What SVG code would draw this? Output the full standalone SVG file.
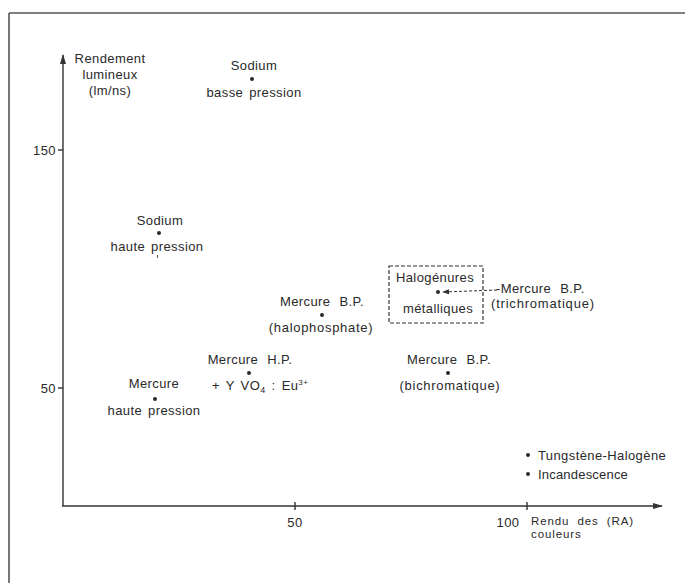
<svg xmlns="http://www.w3.org/2000/svg" width="685" height="583" viewBox="0 0 685 583">
<style>
text{font-family:"Liberation Sans",Arial,sans-serif;font-size:13px;fill:#2a2a2a;letter-spacing:0.4px;word-spacing:2px}
.c{text-anchor:middle}
.e{text-anchor:end}
.w{word-spacing:5px}
.s{font-size:11.5px;letter-spacing:0.9px}
.ax{stroke:#333;stroke-width:1.4;fill:none}
.dot{fill:#2a2a2a}
</style>
<defs>
<marker id="ah" markerWidth="10" markerHeight="8" refX="9" refY="4" orient="auto" markerUnits="userSpaceOnUse">
<path d="M0,1 L10,4 L0,7 Z" fill="#333"/>
</marker>
<marker id="ahs" markerWidth="7" markerHeight="6" refX="6" refY="3" orient="auto" markerUnits="userSpaceOnUse">
<path d="M0,0.5 L7,3 L0,5.5 Z" fill="#333"/>
</marker>
</defs>
<g id="frame">
<line x1="9" y1="13" x2="685" y2="13" stroke="#555" stroke-width="1.6"/>
<line x1="9" y1="13" x2="9" y2="583" stroke="#555" stroke-width="1.6"/>
</g>
<g id="connectors">
<line class="ax" x1="63" y1="506" x2="63" y2="55" marker-end="url(#ah)"/>
<line class="ax" x1="62" y1="506" x2="662" y2="506" marker-end="url(#ah)"/>
<line class="ax" x1="58" y1="150" x2="63" y2="150"/>
<line class="ax" x1="58" y1="388" x2="63" y2="388"/>
<line class="ax" x1="295" y1="502" x2="295" y2="510"/>
<line class="ax" x1="527" y1="502" x2="527" y2="510"/>
<line x1="497" y1="290" x2="443" y2="292" stroke="#333" stroke-width="1" stroke-dasharray="3,2" marker-end="url(#ahs)"/>
</g>
<g id="axis-y-label">
<text class="c" x="110" y="63">Rendement</text>
<text class="c" x="110" y="79">lumineux</text>
<text class="c" x="110" y="95">(lm/ns)</text>
<text class="e" x="56" y="155">150</text>
<text class="e" x="56" y="393">50</text>
</g>
<g id="axis-x-label">
<text class="c" x="295" y="527">50</text>
<text class="c" x="508" y="527">100</text>
<text class="s" x="531" y="525" style="word-spacing:4px">Rendu des (RA)</text>
<text class="s" x="531" y="538">couleurs</text>
</g>
<g id="sodium-bp">
<text class="c" x="254" y="70">Sodium</text>
<circle class="dot" cx="252" cy="79" r="2"/>
<text class="c" x="254" y="97">basse pression</text>
</g>
<g id="sodium-hp">
<text class="c" x="160" y="225">Sodium</text>
<circle class="dot" cx="159" cy="233" r="2"/>
<text class="c" x="157" y="251">haute pression</text>
<line x1="157.5" y1="255" x2="157.5" y2="258" stroke="#555" stroke-width="1"/>
</g>
<g id="halogenures">
<rect x="389" y="266" width="94" height="57" fill="none" stroke="#333" stroke-width="1.2" stroke-dasharray="4,2"/>
<text class="c" x="435" y="282">Halogénures</text>
<circle class="dot" cx="438" cy="292" r="2"/>
<text class="c" x="438" y="313">métalliques</text>
</g>
<g id="mercure-bp-tri">
<text class="w" x="496" y="293">-Mercure B.P.</text>
<text x="491" y="308" style="letter-spacing:0.8px">(trichromatique)</text>
</g>
<g id="mercure-bp-halo">
<text class="c w" x="322" y="306">Mercure B.P.</text>
<circle class="dot" cx="322" cy="315" r="2"/>
<text class="c" x="321" y="332" style="letter-spacing:0.7px">(halophosphate)</text>
</g>
<g id="mercure-hp-yvo4">
<text class="c w" x="250" y="364">Mercure H.P.</text>
<circle class="dot" cx="249" cy="373" r="2"/>
<text x="212" y="390">+ Y VO<tspan font-size="9" dy="3">4</tspan><tspan dy="-3"> : Eu</tspan><tspan font-size="8" dy="-5">3+</tspan></text>
</g>
<g id="mercure-hp">
<text class="c" x="154" y="388">Mercure</text>
<circle class="dot" cx="155" cy="399" r="2"/>
<text class="c" x="154" y="415">haute pression</text>
</g>
<g id="mercure-bp-bi">
<text class="c w" x="449" y="364">Mercure B.P.</text>
<circle class="dot" cx="448" cy="373" r="2"/>
<text class="c" x="450" y="390" style="letter-spacing:0.7px">(bichromatique)</text>
</g>
<g id="tungstene">
<circle class="dot" cx="528" cy="455" r="2"/>
<text x="538" y="460">Tungstène-Halogène</text>
</g>
<g id="incandescence">
<circle class="dot" cx="528" cy="474" r="2"/>
<text x="538" y="479" style="letter-spacing:0.2px">Incandescence</text>
</g>
</svg>
